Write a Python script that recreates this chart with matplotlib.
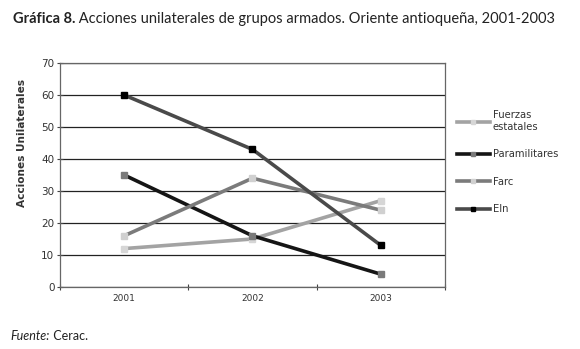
import matplotlib.pyplot as plt
from matplotlib.lines import Line2D

years = ['2001', '2002', '2003']
fuerzas = [12, 15, 27]
paramilitares = [35, 16, 4]
farc = [16, 34, 24]
eln = [60, 43, 13]

series = [
    ('Fuerzas\nestatales', fuerzas, '#a3a3a3', '#d6d6d6'),
    ('Paramilitares', paramilitares, '#151515', '#7a7a7a'),
    ('Farc', farc, '#7b7b7b', '#d0d0d0'),
    ('Eln', eln, '#4a4a4a', '#000000'),
]

fig = plt.figure(figsize=(5.8, 3.49), dpi=100)
ax = fig.add_axes([0.1034, 0.1777, 0.6638, 0.6418])

x = range(len(years))
for label, vals, lc, mc in series:
    ax.plot(x, vals, color=lc, lw=2.6, marker='s', ms=4.5,
            mfc=mc, mec=mc, label=label, zorder=3)

ax.set_xlim(-0.5, 2.5)
ax.set_ylim(0, 70)
ax.set_yticks(range(0, 71, 10))
# category boundaries get the tick marks, labels sit between them
ax.set_xticks([-0.5, 0.5, 1.5, 2.5])
ax.set_xticklabels([])
ax.set_xticks(list(x), minor=True)
ax.set_xticklabels(years, minor=True, fontsize=6.5, color='#333333')
ax.tick_params(axis='x', which='minor', length=0, pad=5)
ax.tick_params(axis='x', which='major', length=4, direction='inout', color='#444444')
ax.tick_params(axis='y', length=4, direction='inout', labelsize=7.5,
               color='#444444', labelcolor='#333333', pad=2)
ax.grid(axis='y', color='#222222', lw=0.9)
ax.set_axisbelow(True)
for s in ax.spines.values():
    s.set_color('#666666')
    s.set_linewidth(0.9)
ax.set_ylabel('Acciones Unilaterales', fontsize=7.6, fontweight='bold',
              color='#333333', labelpad=6)
ax.yaxis.set_label_coords(-0.085, 0.645)

handles = [Line2D([], [], color=lc, lw=2.6, marker='s', ms=3.5, mfc=mc, mec=mc)
           for _, _, lc, mc in series]
fig.legend(handles, [s[0] for s in series], loc='upper left',
           bbox_to_anchor=(0.772, 0.71), frameon=False, fontsize=7.2,
           handlelength=3.3, handletextpad=0.3, labelspacing=1.75,
           labelcolor='#333333')

t1 = fig.text(0.022, 0.935, 'Gráfica 8.', fontsize=10.5, fontweight='bold',
              family='Lato', color='#222222')
ax.annotate(' Acciones unilaterales de grupos armados. Oriente antioqueña, 2001-2003',
            xy=(1, 0), xycoords=t1, va='bottom', fontsize=10.5, family='Lato',
            color='#222222', annotation_clip=False)
t2 = fig.text(0.018, 0.025, 'Fuente:', fontsize=9, style='italic', family='Lato',
              color='#222222')
ax.annotate(' Cerac.', xy=(1, 0), xycoords=t2, va='bottom', fontsize=9,
            family='Lato', color='#222222', annotation_clip=False)

fig.savefig('out.png', dpi=100)
